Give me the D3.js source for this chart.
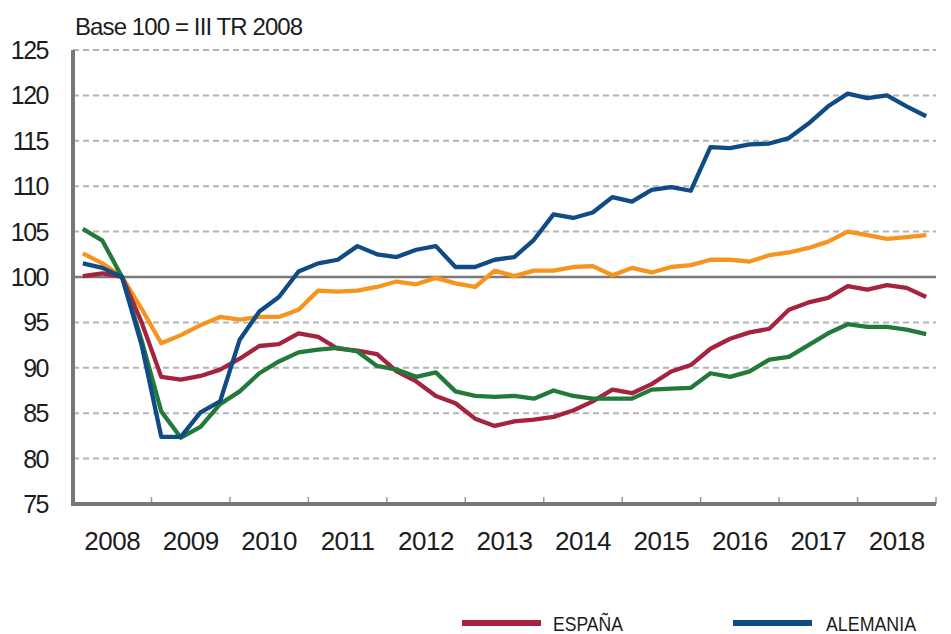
<!DOCTYPE html>
<html>
<head>
<meta charset="utf-8">
<script src="https://cdn.jsdelivr.net/npm/d3@7"></script>
<style>
  body { margin: 0; background: #fff; }
  svg text { font-family: "Liberation Sans", Arial, sans-serif; fill: #1c1c1c; }
</style>
</head>
<body>
<div id="chart"></div>
<script>
// quarterly index, base 100 = III TR 2008, 2008Q1 .. 2018Q4
var years = [2008, 2009, 2010, 2011, 2012, 2013, 2014, 2015, 2016, 2017, 2018];
var yTicks = [75, 80, 85, 90, 95, 100, 105, 110, 115, 120, 125];

var espana = [100.1, 100.4, 100, 95, 89.0, 88.7, 89.1, 89.8,
  91.0, 92.4, 92.6, 93.8, 93.4, 92.1, 91.9, 91.5,
  89.6, 88.5, 86.9, 86.1, 84.4, 83.6, 84.1, 84.3,
  84.6, 85.3, 86.3, 87.6, 87.2, 88.2, 89.6, 90.3,
  92.1, 93.2, 93.9, 94.3, 96.4, 97.2, 97.7, 99.0,
  98.6, 99.1, 98.8, 97.8];
var alemania = [101.5, 101.0, 100, 92.5, 82.4, 82.4, 85.1, 86.3,
  93.1, 96.2, 97.8, 100.6, 101.5, 101.9, 103.4, 102.5,
  102.2, 103.0, 103.4, 101.1, 101.1, 101.9, 102.2, 104.1,
  106.9, 106.5, 107.1, 108.8, 108.3, 109.6, 109.9, 109.5,
  114.3, 114.2, 114.6, 114.7, 115.3, 116.9, 118.8, 120.2,
  119.7, 120.0, 118.8, 117.7];
var naranja = [102.6, 101.5, 100, 96.5, 92.7, 93.6, 94.7, 95.6,
  95.3, 95.6, 95.6, 96.4, 98.5, 98.4, 98.5, 98.9,
  99.5, 99.2, 99.9, 99.3, 98.9, 100.7, 100.1, 100.7,
  100.7, 101.1, 101.2, 100.2, 101.0, 100.5, 101.1, 101.3,
  101.9, 101.9, 101.7, 102.4, 102.7, 103.2, 103.9, 105.0,
  104.6, 104.2, 104.4, 104.6];
var verde = [105.3, 104.0, 100, 93, 85.2, 82.3, 83.5, 86.0,
  87.4, 89.4, 90.7, 91.7, 92.0, 92.2, 91.8, 90.2,
  89.8, 89.0, 89.5, 87.4, 86.9, 86.8, 86.9, 86.6,
  87.5, 86.9, 86.6, 86.6, 86.6, 87.6, 87.7, 87.8,
  89.4, 89.0, 89.6, 90.9, 91.2, 92.5, 93.8, 94.8,
  94.5, 94.5, 94.2, 93.7];

var quarters = [];
years.forEach(function(y) { [0, 1, 2, 3].forEach(function(q) { quarters.push(y + (q + 0.5) / 4); }); });

var series = [
  {name: "naranja", values: naranja, color: "#f7941d"},
  {name: "ESPAÑA", values: espana, color: "#a5233f"},
  {name: "verde", values: verde, color: "#23793a"},
  {name: "ALEMANIA", values: alemania, color: "#104b86"}
];

var margin = {top: 50, right: 15, bottom: 130, left: 73},
    width = 951 - margin.left - margin.right,
    height = 634 - margin.top - margin.bottom;

var svg = d3.select("#chart")
  .append("svg")
    .attr("width", 951)
    .attr("height", 634)
  .append("g")
    .attr("transform", "translate(" + margin.left + "," + margin.top + ")");

var x = d3.scaleLinear()
  .domain([years[0], years[years.length - 1] + 1])
  .range([0, width]);

var xBand = d3.scaleBand()
  .domain(years)
  .range([0, width]);

var y = d3.scaleLinear()
  .domain([75, 125])
  .range([height, 0]);

// grid
svg.append("g")
  .selectAll("line")
  .data(yTicks.filter(function(d) { return d > 75; }))
  .enter()
  .append("line")
    .attr("x1", 0)
    .attr("x2", width)
    .attr("y1", function(d) { return y(d); })
    .attr("y2", function(d) { return y(d); })
    .attr("stroke", function(d) { return d == 100 ? "#7a7a7a" : "#b4b4b4"; })
    .attr("stroke-width", function(d) { return d == 100 ? 2.5 : 2; })
    .attr("stroke-dasharray", function(d) { return d == 100 ? null : "6,4"; });

// x ticks at year boundaries
svg.append("g")
  .selectAll("line")
  .data(years.map(function(d) { return d + 1; }))
  .enter()
  .append("line")
    .attr("x1", function(d) { return x(d); })
    .attr("x2", function(d) { return x(d); })
    .attr("y1", height)
    .attr("y2", height - 7)
    .attr("stroke", "#9a9a9a")
    .attr("stroke-width", 1.5);

// lines
var line = d3.line()
  .x(function(d, i) { return x(quarters[i]); })
  .y(function(d) { return y(d); });

svg.append("g")
  .selectAll("path")
  .data(series)
  .enter()
  .append("path")
    .attr("d", function(d) { return line(d.values); })
    .attr("fill", "none")
    .attr("stroke", function(d) { return d.color; })
    .attr("stroke-width", 4.3)
    .attr("stroke-linejoin", "round");

// axes
svg.append("line")
  .attr("x1", 0).attr("x2", 0)
  .attr("y1", 0).attr("y2", height + 2)
  .attr("stroke", "#777").attr("stroke-width", 4);
svg.append("line")
  .attr("x1", -2).attr("x2", width)
  .attr("y1", height).attr("y2", height)
  .attr("stroke", "#777").attr("stroke-width", 4);

svg.append("g")
  .selectAll("text")
  .data(yTicks)
  .enter()
  .append("text")
    .attr("x", -25)
    .attr("y", function(d) { return y(d); })
    .attr("dy", "0.36em")
    .attr("text-anchor", "end")
    .style("font-size", "25px")
    .style("letter-spacing", "-1.5px")
    .text(function(d) { return d; });

svg.append("g")
  .selectAll("text")
  .data(years)
  .enter()
  .append("text")
    .attr("x", function(d) { return xBand(d) + xBand.bandwidth() / 2; })
    .attr("y", height + 46)
    .attr("text-anchor", "middle")
    .style("font-size", "26px")
    .style("letter-spacing", "-0.5px")
    .text(function(d) { return d; });

svg.append("text")
  .attr("x", 2)
  .attr("y", -15)
  .style("font-size", "24px")
  .style("letter-spacing", "-0.9px")
  .text("Base 100 = III TR 2008");

// legend (only the visible part)
var legend = svg.append("g")
  .attr("transform", "translate(0," + (height + 119) + ")");
var legItems = [series[1], series[3]];
var legX = [389, 660];
var legW = [70, 90];
legend.selectAll("line")
  .data(legItems)
  .enter()
  .append("line")
    .attr("x1", function(d, i) { return legX[i]; })
    .attr("x2", function(d, i) { return legX[i] + 79; })
    .attr("y1", 0).attr("y2", 0)
    .attr("stroke", function(d) { return d.color; })
    .attr("stroke-width", 6);
legend.selectAll("text")
  .data(legItems)
  .enter()
  .append("text")
    .attr("x", function(d, i) { return legX[i] + 91 + (i * 2); })
    .attr("y", 8)
    .attr("textLength", function(d, i) { return legW[i]; })
    .attr("lengthAdjust", "spacingAndGlyphs")
    .style("font-size", "21px")
    .text(function(d) { return d.name; });
</script>
</body>
</html>
